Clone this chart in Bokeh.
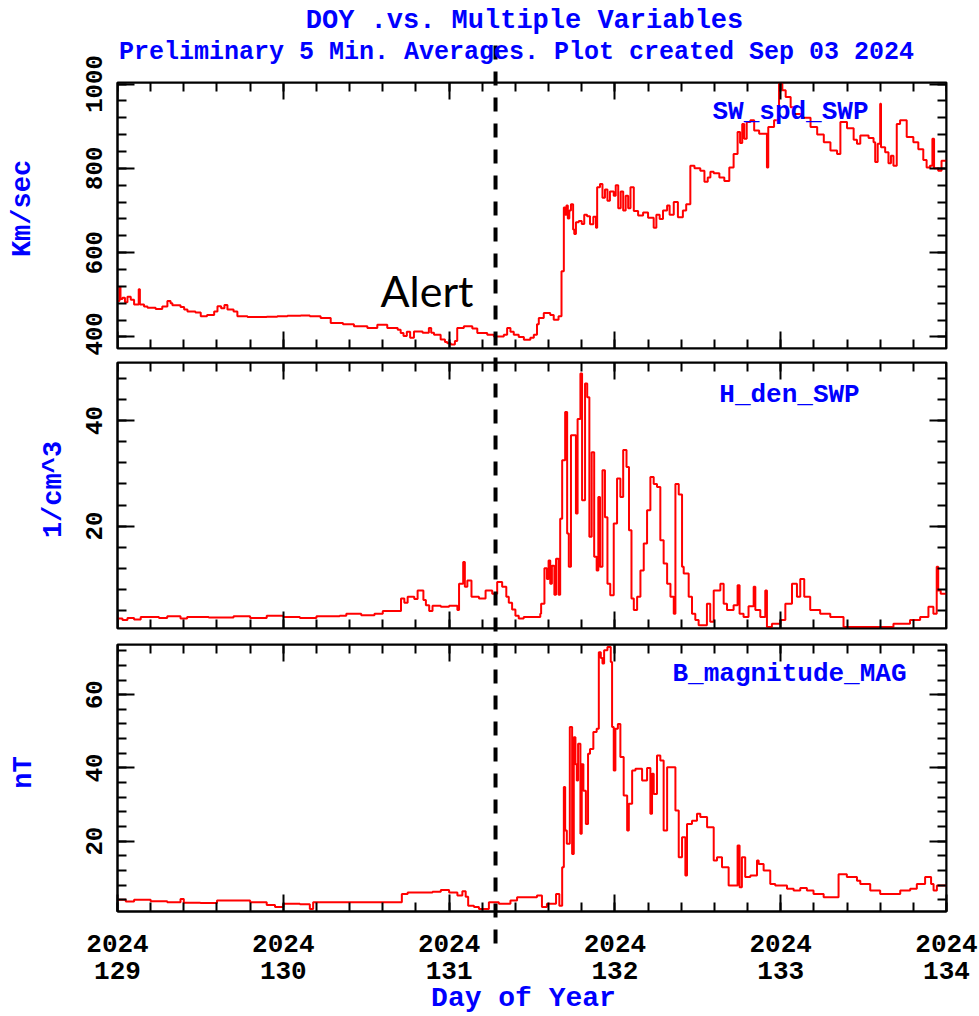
import math
from bokeh.plotting import figure
from bokeh.layouts import column
from bokeh.models import FixedTicker, LinearAxis, Range1d
from bokeh.core.properties import value
from bokeh.embed import file_html
from bokeh.resources import INLINE

# ---------------------------------------------------------------- data
# 5-minute averages, day of year 2024 (value holds until the next sample)
day_ticks = [129, 130, 131, 132, 133, 134]
day_tick_labels = ["2024\n129", "2024\n130", "2024\n131", "2024\n132", "2024\n133", "2024\n134"]
alert_day = 131.28

speed_day = [
    129.000, 129.012, 129.018, 129.030, 129.045, 129.060, 129.080, 129.100, 129.128, 129.135,
    129.160, 129.181, 129.230, 129.270, 129.301, 129.320, 129.331, 129.380, 129.402, 129.422,
    129.470, 129.502, 129.540, 129.583, 129.603, 129.625, 129.645, 129.663, 129.700, 129.723,
    129.784, 129.900, 129.964, 130.025, 130.105, 130.160, 130.225, 130.286, 130.360, 130.426,
    130.507, 130.567, 130.627, 130.690, 130.708, 130.725, 130.745, 130.765, 130.788, 130.840,
    130.878, 130.892, 130.909, 130.949, 130.975, 130.989, 131.010, 131.035, 131.049, 131.089,
    131.140, 131.170, 131.230, 131.270, 131.330, 131.350, 131.370, 131.390, 131.420, 131.451,
    131.490, 131.511, 131.530, 131.541, 131.571, 131.610, 131.631, 131.660, 131.678, 131.692,
    131.700, 131.708, 131.716, 131.725, 131.735, 131.748, 131.755, 131.765, 131.782, 131.800,
    131.815, 131.832, 131.850, 131.870, 131.886, 131.893, 131.910, 131.925, 131.940, 131.955,
    131.970, 131.993, 132.005, 132.020, 132.035, 132.050, 132.065, 132.080, 132.094, 132.114,
    132.140, 132.170, 132.200, 132.234, 132.250, 132.270, 132.290, 132.315, 132.330, 132.355,
    132.380, 132.410, 132.430, 132.455, 132.480, 132.515, 132.540, 132.560, 132.576, 132.596,
    132.630, 132.660, 132.690, 132.716, 132.740, 132.755, 132.768, 132.780, 132.795, 132.817,
    132.840, 132.870, 132.917, 132.925, 132.960, 132.990, 133.010, 133.030, 133.060, 133.080,
    133.130, 133.180, 133.220, 133.260, 133.300, 133.340, 133.360, 133.400, 133.440, 133.460,
    133.480, 133.530, 133.560, 133.570, 133.585, 133.600, 133.605, 133.630, 133.650, 133.665,
    133.680, 133.700, 133.720, 133.760, 133.800, 133.830, 133.860, 133.880, 133.900, 133.915,
    133.925, 133.950, 133.970, 134.000,
]
speed_kms = [
    485, 518, 490, 493, 482, 495, 488, 477, 513, 477,
    472, 469, 466, 472, 485, 480, 475, 471, 465, 460,
    458, 449, 452, 460, 473, 468, 476, 465, 460, 449,
    447, 448, 449, 450, 451, 449, 445, 433, 430, 425,
    421, 429, 421, 417, 409, 402, 412, 398, 413, 410,
    421, 410, 405, 394, 388, 385, 382, 390, 421, 425,
    420, 409, 405, 401, 405, 421, 412, 405, 400, 393,
    398, 405, 430, 445, 457, 452, 441, 449, 556, 707,
    690, 712, 681, 700, 715, 655, 644, 672, 675, 668,
    690, 686, 667, 685, 659, 755, 763, 730, 750, 723,
    745, 735, 760, 705, 745, 700, 735, 705, 755, 699,
    688, 695, 683, 659, 690, 680, 700, 712, 690, 720,
    684, 700, 715, 806, 800, 794, 768, 778, 792, 788,
    778, 770, 802, 834, 886, 860, 905, 870, 910, 914,
    890, 882, 802, 898, 914, 1001, 985, 969, 945, 929,
    920, 898, 880, 862, 842, 834, 910, 895, 868, 858,
    878, 872, 862, 815, 858, 953, 850, 838, 812, 830,
    806, 905, 914, 874, 862, 845, 820, 802, 806, 870,
    800, 794, 818, 818,
]

dens_day = [
    129.000, 129.030, 129.060, 129.100, 129.140, 129.250, 129.300, 129.380, 129.420, 129.550,
    129.700, 129.800, 129.900, 130.000, 130.100, 130.200, 130.340, 130.380, 130.470, 130.550,
    130.600, 130.710, 130.730, 130.750, 130.790, 130.810, 130.845, 130.860, 130.880, 130.900,
    130.950, 131.000, 131.050, 131.060, 131.085, 131.095, 131.110, 131.135, 131.180, 131.220,
    131.260, 131.290, 131.320, 131.345, 131.360, 131.380, 131.400, 131.420, 131.450, 131.500,
    131.550, 131.555, 131.575, 131.590, 131.600, 131.610, 131.620, 131.635, 131.645, 131.660,
    131.670, 131.682, 131.700, 131.712, 131.722, 131.735, 131.765, 131.775, 131.792, 131.802,
    131.820, 131.833, 131.846, 131.860, 131.875, 131.890, 131.900, 131.910, 131.925, 131.940,
    131.955, 131.972, 131.993, 132.013, 132.033, 132.050, 132.070, 132.085, 132.100, 132.114,
    132.134, 132.154, 132.174, 132.194, 132.214, 132.234, 132.254, 132.274, 132.294, 132.315,
    132.335, 132.355, 132.365, 132.385, 132.405, 132.415, 132.445, 132.465, 132.485, 132.505,
    132.555, 132.575, 132.596, 132.636, 132.656, 132.676, 132.716, 132.740, 132.752, 132.776,
    132.806, 132.837, 132.847, 132.877, 132.907, 132.917, 132.947, 132.998, 133.028, 133.068,
    133.098, 133.118, 133.142, 133.178, 133.238, 133.299, 133.379, 133.680, 133.780, 133.841,
    133.891, 133.921, 133.941, 133.950, 133.965, 134.000,
]
dens_cc = [
    2.5, 2.2, 2.6, 2.3, 2.8, 2.6, 2.9, 2.5, 2.8, 2.7,
    2.9, 2.6, 3.0, 2.8, 2.6, 2.9, 3.0, 3.4, 3.1, 3.4,
    3.9, 6.3, 5.5, 6.6, 6.2, 7.8, 6.0, 5.0, 3.9, 4.9,
    4.7, 4.9, 4.1, 9.1, 13.2, 8.5, 9.7, 6.6, 6.3, 7.8,
    7.2, 9.4, 8.5, 6.6, 5.5, 4.2, 3.0, 2.5, 2.8, 2.8,
    3.4, 5.3, 12.0, 10.0, 13.5, 9.1, 12.5, 7.0, 13.8, 7.0,
    21.4, 32.5, 41.6, 18.6, 12.3, 37.2, 22.4, 40.3, 48.9, 24.9,
    47.0, 44.4, 18.0, 34.0, 14.2, 11.6, 25.5, 12.3, 30.6, 21.7,
    9.1, 6.9, 20.5, 29.0, 25.5, 34.4, 31.2, 19.2, 6.3, 4.1,
    6.6, 11.6, 16.7, 23.0, 29.3, 28.0, 27.4, 17.3, 12.9, 9.1,
    6.6, 3.4, 28.0, 26.0, 12.3, 11.0, 6.6, 3.4, 2.2, 1.2,
    5.3, 1.9, 7.8, 9.1, 5.3, 4.1, 5.0, 8.8, 3.4, 2.8,
    4.8, 8.5, 4.1, 2.8, 7.8, 0.9, 1.5, 2.2, 5.3, 9.1,
    6.6, 10.0, 6.6, 4.1, 3.4, 2.8, 0.9, 1.5, 2.2, 2.8,
    4.7, 3.4, 12.3, 7.8, 7.2, 7.2,
]

bmag_day = [
    129.000, 129.050, 129.100, 129.200, 129.300, 129.380, 129.400, 129.500, 129.600, 129.800,
    129.900, 129.950, 130.000, 130.100, 130.160, 130.180, 130.715, 130.750, 130.900, 130.950,
    131.000, 131.050, 131.080, 131.100, 131.115, 131.150, 131.180, 131.240, 131.300, 131.370,
    131.410, 131.530, 131.560, 131.590, 131.645, 131.665, 131.682, 131.692, 131.700, 131.710,
    131.728, 131.742, 131.752, 131.762, 131.770, 131.778, 131.792, 131.800, 131.810, 131.825,
    131.838, 131.850, 131.870, 131.890, 131.903, 131.915, 131.925, 131.935, 131.955, 131.975,
    131.983, 131.993, 132.003, 132.018, 132.033, 132.053, 132.074, 132.084, 132.104, 132.124,
    132.164, 132.194, 132.214, 132.224, 132.234, 132.254, 132.274, 132.294, 132.315, 132.365,
    132.385, 132.405, 132.425, 132.435, 132.465, 132.495, 132.515, 132.556, 132.596, 132.616,
    132.646, 132.686, 132.740, 132.752, 132.766, 132.786, 132.817, 132.857, 132.867, 132.897,
    132.937, 132.967, 133.038, 133.078, 133.118, 133.158, 133.198, 133.259, 133.349, 133.399,
    133.460, 133.480, 133.540, 133.600, 133.721, 133.781, 133.821, 133.871, 133.907, 133.922,
    133.942, 134.000,
]
bmag_nt = [
    4.0, 3.5, 4.0, 3.6, 3.3, 4.2, 3.2, 3.1, 3.8, 3.3,
    2.6, 2.0, 2.9, 2.8, 1.5, 3.3, 5.6, 6.0, 6.2, 6.7,
    6.0, 5.2, 6.3, 4.8, 2.4, 2.0, 1.5, 3.3, 2.9, 3.8,
    4.7, 5.2, 2.0, 2.9, 5.6, 2.4, 12.9, 34.8, 22.9, 19.3,
    51.2, 16.5, 48.4, 41.0, 36.6, 46.6, 22.0, 41.0, 33.8, 24.7,
    43.9, 45.2, 49.8, 50.7, 71.6, 70.0, 68.5, 72.1, 73.0, 68.9,
    51.2, 39.3, 50.7, 52.0, 43.0, 32.5, 22.9, 30.2, 39.3, 39.8,
    36.6, 40.0, 27.5, 38.4, 32.9, 43.4, 42.0, 22.9, 40.2, 28.4,
    15.6, 21.1, 10.6, 24.7, 25.6, 27.5, 26.6, 23.8, 14.7, 15.6,
    12.9, 7.9, 18.8, 7.4, 15.6, 10.2, 10.6, 14.7, 13.8, 12.0,
    8.3, 7.9, 7.0, 6.5, 7.2, 6.5, 5.6, 4.7, 11.0, 10.2,
    9.2, 8.3, 6.5, 5.6, 6.5, 7.0, 8.3, 10.2, 8.3, 6.5,
    7.9, 7.9,
]

speed_ticks = [400, 600, 800, 1000]
dens_ticks = [20, 40]
bmag_ticks = [20, 40, 60]

title_text = "DOY .vs. Multiple Variables"
subtitle_text = "Preliminary 5 Min. Averages. Plot created Sep 03 2024"
x_title = "Day of Year"
alert_text = "Alert"

# ---------------------------------------------------------------- layout (page pixels)
PAGE_W = 979
FRAME_L, FRAME_R = 117, 946
X_LIMITS = (129.0, 134.0)
MONO = "Liberation Mono"
BLUE = "#0000ff"
MAJOR_LEN, MINOR_LEN = 17, 9

panels = [
    dict(day=speed_day, val=speed_kms, ylim=(372.5, 1003.6), ticks=speed_ticks, minor=40,
         frame=(82, 348), canvas=(0, 355), unit="Km/sec", unit_pos=(22, 208),
         name="SW_spd_SWP", name_pos=(790, 111)),
    dict(day=dens_day, val=dens_cc, ylim=(0.6, 51.0), ticks=dens_ticks, minor=4,
         frame=(362, 628), canvas=(355, 636), unit="1/cm^3", unit_pos=(53, 489),
         name="H_den_SWP", name_pos=(789, 394)),
    dict(day=bmag_day, val=bmag_nt, ylim=(0.8, 73.7), ticks=bmag_ticks, minor=4,
         frame=(644, 911), canvas=(636, 1016), unit="nT", unit_pos=(23, 772),
         name="B_magnitude_MAG", name_pos=(789, 673)),
]
ALERT_TOP, ALERT_BOTTOM = 45, 953
DASH_ON, DASH_OFF = 14, 12


def data_x(px):
    return X_LIMITS[0] + (px - FRAME_L) * (X_LIMITS[1] - X_LIMITS[0]) / (FRAME_R - FRAME_L)


def data_y(cfg, py):
    lo, hi = cfg["ylim"]
    top, bot = cfg["frame"]
    return lo + (bot - py) * (hi - lo) / (bot - top)


def tick_style(ax):
    ax.axis_line_color = "black"
    ax.axis_line_width = 2
    ax.major_tick_line_color = "black"
    ax.major_tick_line_width = 2
    ax.minor_tick_line_color = "black"
    ax.minor_tick_line_width = 2
    ax.major_tick_in = MAJOR_LEN
    ax.major_tick_out = 0
    ax.minor_tick_in = MINOR_LEN
    ax.minor_tick_out = 0
    ax.major_label_text_font = MONO
    ax.major_label_text_font_style = "bold"
    ax.major_label_text_color = "black"


def bare_ticks(p, side, where, major, minor):
    """Inward ticks on an unlabelled side: two label-free axes, long and short."""
    for positions, length, line in ((minor, MINOR_LEN, "black"), (major, MAJOR_LEN, None)):
        ax = LinearAxis(ticker=FixedTicker(ticks=[], minor_ticks=list(positions)),
                        fixed_location=where)
        tick_style(ax)
        ax.axis_line_color = line
        ax.minor_tick_in = length
        p.add_layout(ax, side)


def add_text(p, x, y, text, size, color=BLUE, font=MONO, style="bold",
             align="center", baseline="middle", angle=0.0):
    p.text(x=[x], y=[y], text=[text], text_font=value(font), text_font_size=value(size),
           text_font_style=style, text_color=color, text_align=align,
           text_baseline=baseline, angle=angle, level="overlay")


x_minor = [X_LIMITS[0] + 0.2 * i for i in range(26)]

figs = []
for i, cfg in enumerate(panels):
    ctop, cbot = cfg["canvas"]
    ftop, fbot = cfg["frame"]
    lo, hi = cfg["ylim"]
    p = figure(width=PAGE_W, height=cbot - ctop,
               x_range=Range1d(*X_LIMITS), y_range=Range1d(lo, hi),
               x_axis_type=None, y_axis_type=None,
               min_border_left=FRAME_L, min_border_right=PAGE_W - FRAME_R,
               min_border_top=ftop - ctop, min_border_bottom=cbot - fbot,
               output_backend="svg", toolbar_location=None)
    p.outline_line_color = "black"
    p.outline_line_width = 2
    p.background_fill_color = "white"
    p.border_fill_color = "white"

    y_minor = [v for v in range(0, 1100, cfg["minor"]) if lo <= v <= hi]

    # left: labelled value axis on the frame edge
    yax = LinearAxis(ticker=FixedTicker(ticks=cfg["ticks"], minor_ticks=y_minor))
    tick_style(yax)
    yax.major_label_orientation = "vertical"
    yax.major_label_text_font_size = "24px"
    yax.major_label_standoff = 15
    p.add_layout(yax, "left")
    bare_ticks(p, "right", X_LIMITS[1], cfg["ticks"], y_minor)

    # bottom: labelled only on the last panel
    if i == len(panels) - 1:
        xax = LinearAxis(ticker=FixedTicker(ticks=day_ticks, minor_ticks=x_minor))
        tick_style(xax)
        xax.major_label_overrides = {t: lab for t, lab in zip(day_ticks, day_tick_labels)}
        xax.major_label_text_font_size = "26px"
        xax.major_label_text_line_height = 0.9
        xax.major_label_standoff = 18
        p.add_layout(xax, "below")
    else:
        bare_ticks(p, "below", lo, day_ticks, x_minor)
    bare_ticks(p, "above", hi, day_ticks, x_minor)

    p.step(cfg["day"], cfg["val"], mode="after", line_color="red", line_width=2)

    # alert marker, continuing across the gaps between panels
    seg_top = max(ALERT_TOP, ctop)
    seg_bot = min(ALERT_BOTTOM, cbot)
    p.segment(x0=[alert_day], y0=[data_y(cfg, seg_top)], x1=[alert_day], y1=[data_y(cfg, seg_bot)],
              line_color="black", line_width=4, line_dash=f"{DASH_ON} {DASH_OFF}",
              line_dash_offset=(seg_top - ALERT_TOP) % (DASH_ON + DASH_OFF), level="overlay")

    nx, ny = cfg["name_pos"]
    add_text(p, data_x(nx), data_y(cfg, ny), cfg["name"], "26px")
    ux, uy = cfg["unit_pos"]
    add_text(p, data_x(ux), data_y(cfg, uy), cfg["unit"], "27px", angle=math.pi / 2)
    figs.append(p)

top_cfg, top_fig = panels[0], figs[0]
add_text(top_fig, data_x(524), data_y(top_cfg, 20), title_text, "27px")
add_text(top_fig, data_x(516), data_y(top_cfg, 52), subtitle_text, "25px")
add_text(top_fig, data_x(380), data_y(top_cfg, 290), alert_text, "43px", color="black",
         font="Lato", style="normal", align="left", baseline="alphabetic")

bot_cfg, bot_fig = panels[-1], figs[-1]
add_text(bot_fig, data_x(523), data_y(bot_cfg, 998), x_title, "28px")

page = column(*figs, spacing=0)
open("out.html", "w").write(file_html(page, INLINE))
